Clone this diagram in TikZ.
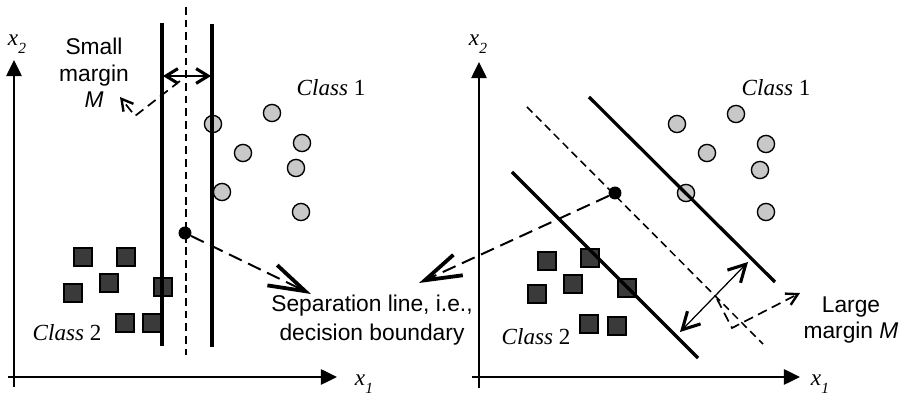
\documentclass[tikz,border=0pt]{standalone}
\usepackage{fontspec}
\setmainfont{Liberation Serif}
\setsansfont{Liberation Sans}
\usetikzlibrary{arrows.meta}
\definecolor{classonefill}{HTML}{C8C8C8}
\definecolor{classtwofill}{HTML}{3A3A3A}
\newcommand{\axsub}[1]{\raisebox{-0.75ex}{\fontsize{11}{11}\selectfont #1}}

\begin{document}
\begin{tikzpicture}[
  x=0.025cm, y=-0.025cm,
  axis/.style={line width=1.1pt, -{Triangle[length=11.5pt, width=11pt]}},
  hyper/.style={line width=2.3pt},
  boundary/.style={line width=1.1pt, dash pattern=on 5.5pt off 3.5pt},
  ptone/.style={circle, draw, line width=1pt, fill=classonefill, minimum size=12.2pt, inner sep=0pt},
  pttwo/.style={rectangle, draw, line width=0.8pt, fill=classtwofill, minimum size=12.8pt, inner sep=0pt},
  svdot/.style={circle, fill=black, minimum size=9.2pt, inner sep=0pt},
  lbl/.style={font=\sffamily\fontsize{16.2}{19}\selectfont, align=center, inner sep=0pt},
  cls/.style={font=\fontsize{16.4}{19}\selectfont, inner sep=0pt},
  axlbl/.style={font=\fontsize{16.5}{19}\selectfont\itshape, inner sep=0pt},
  callout/.style={line width=1.4pt, dash pattern=on 10pt off 5pt,
                  -{Straight Barb[length=26pt, width=16pt, line width=2.7pt]}},
  mcall/.style={line width=1.2pt, dash pattern=on 7pt off 4pt,
                -{Straight Barb[length=8pt, width=9pt, line width=1.7pt]}},
  smallgap/.style={line width=0.8pt,
                   {Straight Barb[length=8.5pt, width=10.5pt, line width=2.2pt]}-{Straight Barb[length=8.5pt, width=10.5pt, line width=2.2pt]}},
  largegap/.style={line width=0.9pt,
                   {Straight Barb[length=12pt, width=13pt, line width=2.2pt]}-{Straight Barb[length=12pt, width=13pt, line width=2.2pt]}},
]
\useasboundingbox (0,0) rectangle (903,398);

% ===== Left panel: small margin =====
\coordinate (oL) at (14,387);
\coordinate (yL) at (14,60);
\coordinate (xa) at (8,377);
\coordinate (xL) at (337,377);
\draw[axis] (oL) -- (yL);
\draw[axis] (xa) -- (xL);
\node[axlbl] (x2L) at (17,44) {x\axsub{2}};
\node[axlbl] (x1L) at (364,384) {x\axsub{1}};

% class 1 (circles)
\node[ptone] (aL1) at (213,124) {};
\node[ptone] (aL2) at (272,113) {};
\node[ptone] (aL3) at (243,153) {};
\node[ptone] (aL4) at (302,143) {};
\node[ptone] (aL5) at (296,168) {};
\node[ptone] (aL6) at (222,192) {};
\node[ptone] (aL7) at (301,212) {};
\node[cls] (clsL1) at (331,88) {\textit{Class} 1};

% class 2 (squares)
\node[pttwo] (bL1) at (83,257) {};
\node[pttwo] (bL2) at (126,257) {};
\node[pttwo] (bL3) at (109,283) {};
\node[pttwo] (bL4) at (73,293) {};
\node[pttwo] (bL5) at (163,287) {};
\node[pttwo] (bL6) at (125,323) {};
\node[pttwo] (bL7) at (152,323) {};
\node[cls] (clsL2) at (67,333) {\textit{Class} 2};

% margins and boundary
\coordinate (hLat) at (162,23);  \coordinate (hLab) at (162,346);
\coordinate (hLbt) at (212,24);  \coordinate (hLbb) at (212,347);
\coordinate (dLt) at (186,7);    \coordinate (dLb) at (186,355);
\draw[hyper] (hLat) -- (hLab);
\draw[hyper] (hLbt) -- (hLbb);
\draw[boundary] (dLt) -- (dLb);

\coordinate (gapLa) at (163,76);
\coordinate (gapLb) at (211,76);
\draw[smallgap] (gapLa) -- (gapLb);

\node[lbl] (small) at (94,73) {Small\\margin\\\textit{M}};
\coordinate (smallFrom) at (180,81);
\coordinate (smallTo) at (120,97);
\draw[mcall] (smallFrom) -- (135,116) -- (smallTo);

\node[svdot] (svL) at (185,233) {};

% ===== Shared label =====
\node[lbl, font=\sffamily\fontsize{16.2}{20.6}\selectfont] (sep) at (372,320)
  {Separation line, i.e.,\\decision boundary};
\coordinate (sepL) at (311,294);
\coordinate (sepR) at (419,283);
\draw[callout] (svL) -- (sepL);

% ===== Right panel: large margin =====
\coordinate (oR) at (479,388);
\coordinate (yR) at (479,62);
\coordinate (xb) at (472,377);
\coordinate (xR) at (800,377);
\draw[axis] (oR) -- (yR);
\draw[axis] (xb) -- (xR);
\node[axlbl] (x2R) at (478,44) {x\axsub{2}};
\node[axlbl] (x1R) at (820,384) {x\axsub{1}};

% class 1 (circles)
\node[ptone] (aR1) at (677,124) {};
\node[ptone] (aR2) at (736,114) {};
\node[ptone] (aR3) at (707,153) {};
\node[ptone] (aR4) at (766,144) {};
\node[ptone] (aR5) at (760,170) {};
\node[ptone] (aR6) at (686,193) {};
\node[ptone] (aR7) at (766,212) {};
\node[cls] (clsR1) at (776,88) {\textit{Class} 1};

% class 2 (squares)
\node[pttwo] (bR1) at (547,261) {};
\node[pttwo] (bR2) at (590,258) {};
\node[pttwo] (bR3) at (573,284) {};
\node[pttwo] (bR4) at (537,294) {};
\node[pttwo] (bR5) at (627,288) {};
\node[pttwo] (bR6) at (589,324) {};
\node[pttwo] (bR7) at (617,326) {};
\node[cls] (clsR2) at (536,337) {\textit{Class} 2};

% margins and boundary
\coordinate (hRat) at (589,97);  \coordinate (hRab) at (775,282);
\coordinate (hRbt) at (512,172); \coordinate (hRbb) at (698,358);
\coordinate (dRt) at (527,107);  \coordinate (dRb) at (763,344);
\draw[hyper] (hRat) -- (hRab);
\draw[hyper] (hRbt) -- (hRbb);
\draw[boundary] (dRt) -- (dRb);

\node[svdot] (svR) at (615,193) {};
\draw[callout] (svR) -- (sepR);

\coordinate (gapRa) at (680,332);
\coordinate (gapRb) at (748,262);
\draw[largegap] (gapRa) -- (gapRb);

\node[lbl] (large) at (851,320) {Large\\margin \textit{M}};
\coordinate (largeFrom) at (717,299);
\coordinate (largeTo) at (800,293);
\draw[mcall] (largeFrom) -- (732,328) -- (largeTo);

\end{tikzpicture}
\end{document}
